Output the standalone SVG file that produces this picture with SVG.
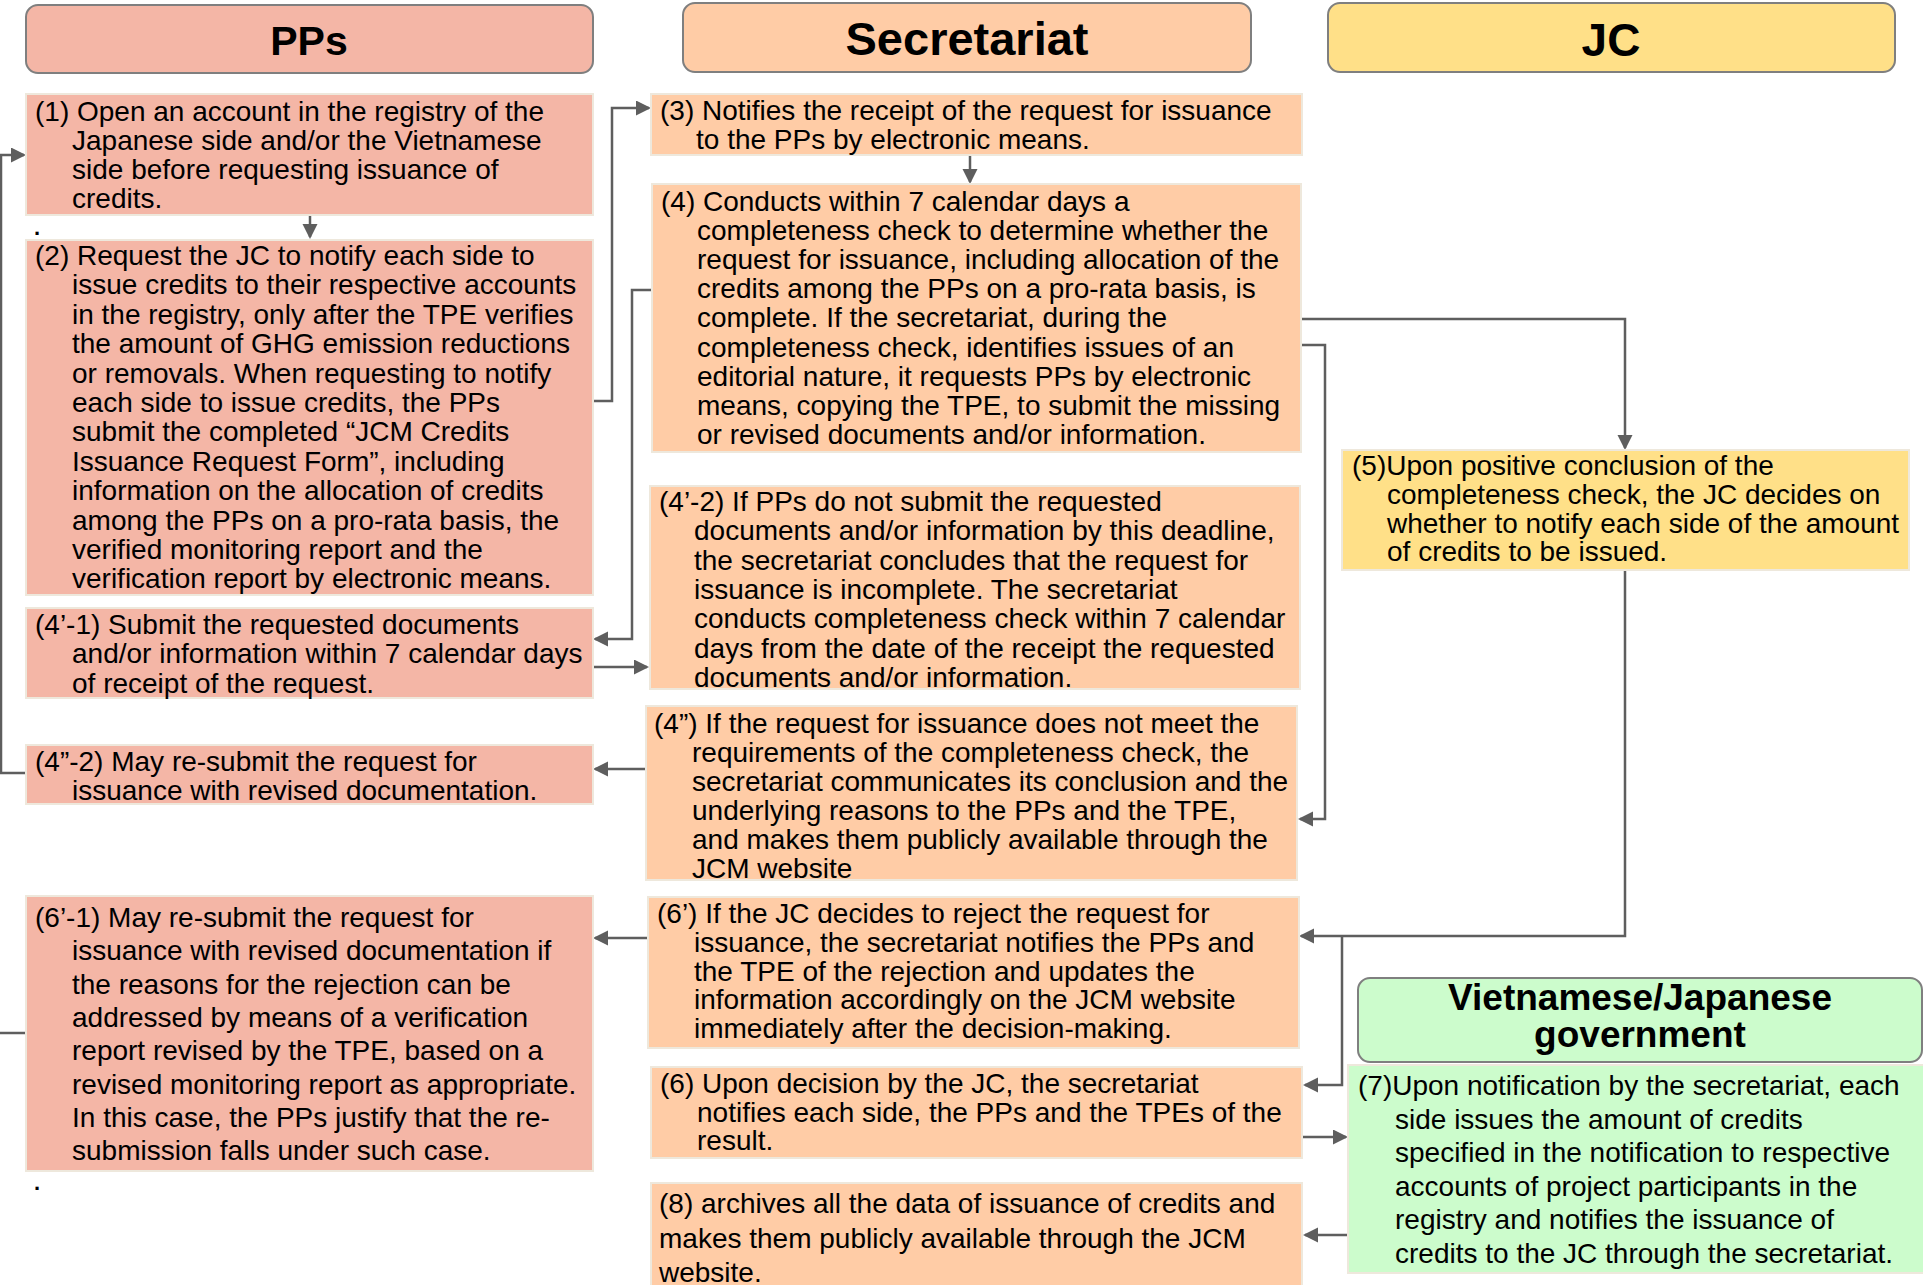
<svg xmlns="http://www.w3.org/2000/svg" width="1923" height="1285" viewBox="0 0 1923 1285">
  <defs>
    <style>
      .hdr { stroke: #7f7f7f; stroke-width: 2; }
      .box { stroke: #eee8dc; stroke-width: 2; }
      .pp { fill: #f4b6a6; }
      .sec { fill: #ffcca6; }
      .jc { fill: #ffe088; }
      .gov { fill: #ccfccc; }
      .ht { font-family: "Liberation Sans", Arial, sans-serif; font-weight: bold; fill: #000; text-anchor: middle; }
      .t { font-family: "Liberation Sans", Arial, sans-serif; font-size: 28px; fill: #000; }
      .dot { font-family: "Liberation Sans", Arial, sans-serif; font-size: 22px; font-weight: bold; fill: #000; }
      .wire { fill: none; stroke: #5e5e5e; stroke-width: 2.5; }
    </style>
    <marker id="arrow" markerUnits="userSpaceOnUse" markerWidth="16" markerHeight="16" refX="13" refY="7.5" orient="auto">
      <path d="M0,0 L15,7.5 L0,15 z" fill="#5e5e5e"/>
    </marker>
  </defs>

  <rect width="1923" height="1285" fill="#ffffff"/>

  <!-- Column headers -->
  <g id="header-pps">
    <rect class="hdr pp" x="26" y="5" width="567" height="68" rx="12"/>
    <text class="ht" x="309" y="55" font-size="41">PPs</text>
  </g>
  <g id="header-secretariat">
    <rect class="hdr sec" x="683" y="3" width="568" height="69" rx="12"/>
    <text class="ht" x="967" y="55" font-size="47">Secretariat</text>
  </g>
  <g id="header-jc">
    <rect class="hdr jc" x="1328" y="3" width="567" height="69" rx="12"/>
    <text class="ht" x="1611" y="56" font-size="46">JC</text>
  </g>
  <g id="header-government">
    <rect class="hdr gov" x="1358" y="978" width="564" height="84" rx="12"/>
    <text class="ht" x="1640" y="1010" font-size="37">Vietnamese/Japanese</text>
    <text class="ht" x="1640" y="1047" font-size="37">government</text>
  </g>

  <!-- Connectors -->
  <g id="connectors">
    <path class="wire" d="M26,773 H1 V155 H24" marker-end="url(#arrow)"/>
    <path class="wire" d="M310,215 V237" marker-end="url(#arrow)"/>
    <path class="wire" d="M592,401 H612 V108 H649" marker-end="url(#arrow)"/>
    <path class="wire" d="M970,155 V182" marker-end="url(#arrow)"/>
    <path class="wire" d="M652,290 H632 V639 H595" marker-end="url(#arrow)"/>
    <path class="wire" d="M592,667 H647" marker-end="url(#arrow)"/>
    <path class="wire" d="M646,769 H595" marker-end="url(#arrow)"/>
    <path class="wire" d="M1301,345 H1325 V819 H1300" marker-end="url(#arrow)"/>
    <path class="wire" d="M1301,319 H1625 V448" marker-end="url(#arrow)"/>
    <path class="wire" d="M1625,570 V936 H1301" marker-end="url(#arrow)"/>
    <path class="wire" d="M1342,936 V1085 H1305" marker-end="url(#arrow)"/>
    <path class="wire" d="M1302,1137 H1346" marker-end="url(#arrow)"/>
    <path class="wire" d="M1348,1235 H1305" marker-end="url(#arrow)"/>
    <path class="wire" d="M648,938 H595" marker-end="url(#arrow)"/>
    <path class="wire" d="M26,1033 H0"/>
  </g>

  <!-- PPs column -->
  <g id="step-1">
    <rect class="box pp" x="26" y="94" width="567" height="121"/>
    <text class="t" x="35" y="121">(1) Open an account in the registry of the</text>
    <text class="t" x="72" y="150">Japanese side and/or the Vietnamese</text>
    <text class="t" x="72" y="179">side before requesting issuance of</text>
    <text class="t" x="72" y="208">credits.</text>
  </g>
  <text class="dot" x="34" y="234.5">.</text>
  <g id="step-2">
    <rect class="box pp" x="26" y="240" width="567" height="355"/>
    <text class="t" x="35" y="265">(2) Request the JC to notify each side to</text>
    <text class="t" x="72" y="294.4">issue credits to their respective accounts</text>
    <text class="t" x="72" y="323.8">in the registry, only after the TPE verifies</text>
    <text class="t" x="72" y="353.2">the amount of GHG emission reductions</text>
    <text class="t" x="72" y="382.6">or removals. When requesting to notify</text>
    <text class="t" x="72" y="412">each side to issue credits, the PPs</text>
    <text class="t" x="72" y="441.4">submit the completed “JCM Credits</text>
    <text class="t" x="72" y="470.8">Issuance Request Form”, including</text>
    <text class="t" x="72" y="500.2">information on the allocation of credits</text>
    <text class="t" x="72" y="529.6">among the PPs on a pro-rata basis, the</text>
    <text class="t" x="72" y="559">verified monitoring report and the</text>
    <text class="t" x="72" y="588.4">verification report by electronic means.</text>
  </g>
  <g id="step-4-1">
    <rect class="box pp" x="26" y="608" width="567" height="90"/>
    <text class="t" x="35" y="634">(4’-1) Submit the requested documents</text>
    <text class="t" x="72" y="663">and/or information within 7 calendar days</text>
    <text class="t" x="72" y="693">of receipt of the request.</text>
  </g>
  <g id="step-4b-2">
    <rect class="box pp" x="26" y="745" width="567" height="59"/>
    <text class="t" x="35" y="771">(4”-2) May re-submit the request for</text>
    <text class="t" x="72" y="800">issuance with revised documentation.</text>
  </g>
  <g id="step-6-1">
    <rect class="box pp" x="26" y="896" width="567" height="275"/>
    <text class="t" x="35" y="927">(6’-1) May re-submit the request for</text>
    <text class="t" x="72" y="960.3">issuance with revised documentation if</text>
    <text class="t" x="72" y="993.6">the reasons for the rejection can be</text>
    <text class="t" x="72" y="1026.9">addressed by means of a verification</text>
    <text class="t" x="72" y="1060.2">report revised by the TPE, based on a</text>
    <text class="t" x="72" y="1093.5">revised monitoring report as appropriate.</text>
    <text class="t" x="72" y="1126.8">In this case, the PPs justify that the re-</text>
    <text class="t" x="72" y="1160.1">submission falls under such case.</text>
  </g>
  <text class="dot" x="34" y="1190">.</text>

  <!-- Secretariat column -->
  <g id="step-3">
    <rect class="box sec" x="651" y="94" width="651" height="61"/>
    <text class="t" x="660" y="120">(3) Notifies the receipt of the request for issuance</text>
    <text class="t" x="696" y="149">to the PPs by electronic means.</text>
  </g>
  <g id="step-4">
    <rect class="box sec" x="652" y="184" width="649" height="268"/>
    <text class="t" x="661" y="211">(4) Conducts within 7 calendar days a</text>
    <text class="t" x="697" y="240.1">completeness check to determine whether the</text>
    <text class="t" x="697" y="269.2">request for issuance, including allocation of the</text>
    <text class="t" x="697" y="298.3">credits among the PPs on a pro-rata basis, is</text>
    <text class="t" x="697" y="327.4">complete. If the secretariat, during the</text>
    <text class="t" x="697" y="356.5">completeness check, identifies issues of an</text>
    <text class="t" x="697" y="385.6">editorial nature, it requests PPs by electronic</text>
    <text class="t" x="697" y="414.7">means, copying the TPE, to submit the missing</text>
    <text class="t" x="697" y="443.8">or revised documents and/or information.</text>
  </g>
  <g id="step-4-2">
    <rect class="box sec" x="650" y="486" width="650" height="203"/>
    <text class="t" x="659" y="511">(4’-2) If PPs do not submit the requested</text>
    <text class="t" x="694" y="540.3">documents and/or information by this deadline,</text>
    <text class="t" x="694" y="569.6">the secretariat concludes that the request for</text>
    <text class="t" x="694" y="598.9">issuance is incomplete. The secretariat</text>
    <text class="t" x="694" y="628.2">conducts completeness check within 7 calendar</text>
    <text class="t" x="694" y="657.5">days from the date of the receipt the requested</text>
    <text class="t" x="694" y="686.8">documents and/or information.</text>
  </g>
  <g id="step-4b">
    <rect class="box sec" x="646" y="706" width="651" height="174"/>
    <text class="t" x="654" y="733">(4”) If the request for issuance does not meet the</text>
    <text class="t" x="692" y="762">requirements of the completeness check, the</text>
    <text class="t" x="692" y="791">secretariat communicates its conclusion and the</text>
    <text class="t" x="692" y="820">underlying reasons to the PPs and the TPE,</text>
    <text class="t" x="692" y="849">and makes them publicly available through the</text>
    <text class="t" x="692" y="878">JCM website</text>
  </g>
  <g id="step-6a">
    <rect class="box sec" x="648" y="897" width="651" height="151"/>
    <text class="t" x="657" y="923">(6’) If the JC decides to reject the request for</text>
    <text class="t" x="694" y="951.8">issuance, the secretariat notifies the PPs and</text>
    <text class="t" x="694" y="980.6">the TPE of the rejection and updates the</text>
    <text class="t" x="694" y="1009.4">information accordingly on the JCM website</text>
    <text class="t" x="694" y="1038.2">immediately after the decision-making.</text>
  </g>
  <g id="step-6">
    <rect class="box sec" x="651" y="1067" width="651" height="91"/>
    <text class="t" x="660" y="1093">(6) Upon decision by the JC, the secretariat</text>
    <text class="t" x="697" y="1122">notifies each side, the PPs and the TPEs of the</text>
    <text class="t" x="697" y="1150">result.</text>
  </g>
  <g id="step-8">
    <rect class="box sec" x="651" y="1183" width="651" height="110"/>
    <text class="t" x="659" y="1213">(8) archives all the data of issuance of credits and</text>
    <text class="t" x="659" y="1247.5">makes them publicly available through the JCM</text>
    <text class="t" x="659" y="1282">website.</text>
  </g>

  <!-- JC column -->
  <g id="step-5">
    <rect class="box jc" x="1342" y="450" width="567" height="120"/>
    <text class="t" x="1352" y="475">(5)Upon positive conclusion of the</text>
    <text class="t" x="1387" y="503.8">completeness check, the JC decides on</text>
    <text class="t" x="1387" y="532.6">whether to notify each side of the amount</text>
    <text class="t" x="1387" y="561.4">of credits to be issued.</text>
  </g>

  <!-- Government column -->
  <g id="step-7">
    <rect class="box gov" x="1348" y="1065" width="577" height="208"/>
    <text class="t" x="1358" y="1095">(7)Upon notification by the secretariat, each</text>
    <text class="t" x="1395" y="1128.6">side issues the amount of credits</text>
    <text class="t" x="1395" y="1162.2">specified in the notification to respective</text>
    <text class="t" x="1395" y="1195.8">accounts of project participants in the</text>
    <text class="t" x="1395" y="1229.4">registry and notifies the issuance of</text>
    <text class="t" x="1395" y="1263">credits to the JC through the secretariat.</text>
  </g>
</svg>
